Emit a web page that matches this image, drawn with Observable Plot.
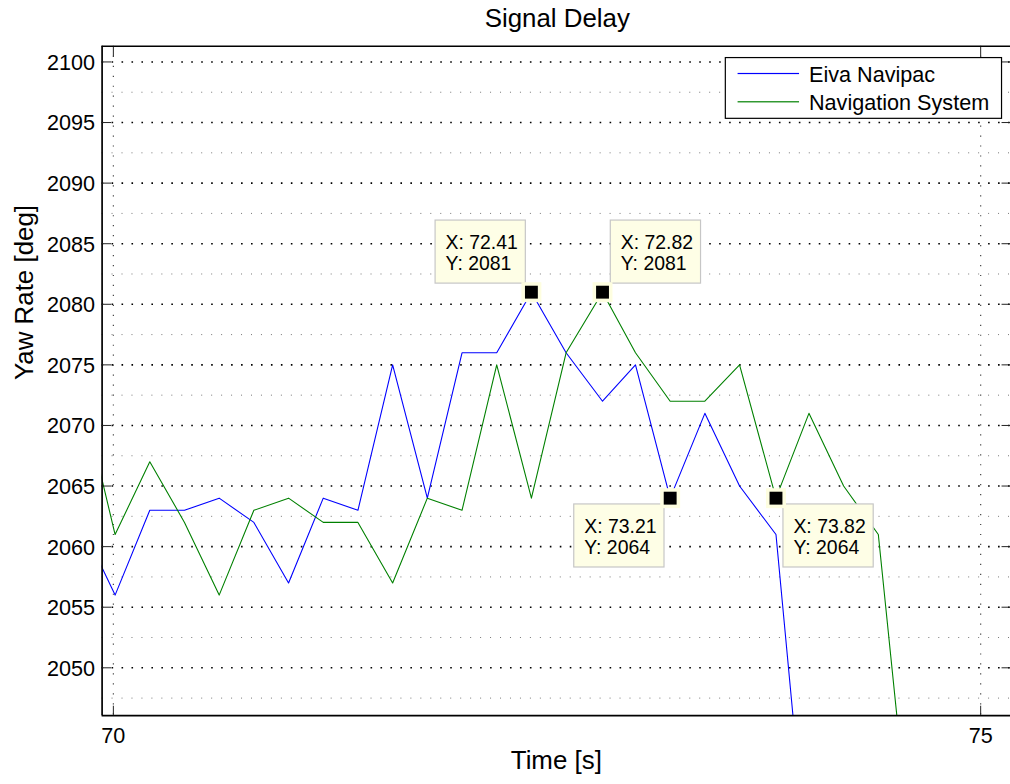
<!DOCTYPE html>
<html>
<head>
<meta charset="utf-8">
<script src="https://cdn.jsdelivr.net/npm/d3@7"></script>
<script src="https://cdn.jsdelivr.net/npm/@observablehq/plot@0.6"></script>
<style>
  html, body { margin: 0; padding: 0; background: #fff; overflow: hidden; }
  #chart { width: 1010px; height: 784px; overflow: hidden; }
  #chart svg { display: block; }
</style>
</head>
<body>
<div id="chart"></div>
<script>
// Sample times [s], shared by both recordings
const time = [69.81, 70.01, 70.21, 70.41, 70.61, 70.81, 71.01, 71.21, 71.41, 71.61,
              71.81, 72.01, 72.21, 72.41, 72.61, 72.82, 73.01, 73.21, 73.41, 73.61,
              73.82, 74.01, 74.21, 74.41, 74.61];

// Yaw rate [deg] from each source
const eivaNavipac = [2062, 2056, 2063, 2063, 2064, 2062, 2057, 2064, 2063, 2075,
                     2064, 2076, 2076, 2081, 2076, 2072, 2075, 2064, 2071, 2065,
                     2061, 2032];
const navigationSystem = [2073, 2061, 2067, 2062, 2056, 2063, 2064, 2062, 2062, 2057,
                          2064, 2063, 2075, 2064, 2076, 2081, 2076, 2072, 2072, 2075,
                          2064, 2071, 2065, 2061, 2033];

const seriesNames = ["Eiva Navipac", "Navigation System"];
const seriesColors = ["#0000ff", "#008000"];

// Axis ticks
const xTicks = [70, 75];
const yTicks = [2050, 2055, 2060, 2065, 2070, 2075, 2080, 2085, 2090, 2095, 2100];
const yMinorTicks = [2047.5, 2052.5, 2057.5, 2062.5, 2067.5, 2072.5, 2077.5, 2082.5, 2087.5, 2092.5, 2097.5];

// Data tips: which series, which sample
const tipSeries = [0, 1, 0, 1];
const tipIndex = [13, 15, 17, 20];

const xDomain = [69.935, 75.172];
const yDomain = [2046.05, 2101.29];

const series = [eivaNavipac, navigationSystem];
const tips = tipSeries.map((s, j) => ({t: time[tipIndex[j]], v: series[s][tipIndex[j]]}));

// Tip box placement relative to its marker (pixels)
const BOX_W = 90.6, BOX_H = 63.3;
const tipPlacement = [
  {left: -96.2, top: -71.9},
  {left: 8.3, top: -71.9},
  {left: -96.3, top: 6.3},
  {left: 7.5, top: 6.3}
];

const font = "'Liberation Sans', Arial, Helvetica, sans-serif";
const tickFont = 21.7;
const labelFont = 26;
const plain = d => String(d);

const chart = Plot.plot({
  width: 1014,
  height: 784,
  marginLeft: 102,
  marginRight: 0,
  marginTop: 46,
  marginBottom: 66,
  style: {fontFamily: font, fontSize: `${tickFont}px`, color: "#000", background: "#fff", overflow: "visible"},
  x: {type: "linear", domain: xDomain, axis: null},
  y: {type: "linear", domain: yDomain, axis: null},
  marks: [
    // grid
    Plot.gridY(yMinorTicks, {stroke: "#777", strokeOpacity: 1, strokeWidth: 1, strokeDasharray: "1,9"}),
    Plot.gridY(yTicks, {stroke: "#000", strokeOpacity: 1, strokeWidth: 1.6, strokeDasharray: "1.6,8.4"}),
    Plot.gridX(xTicks, {stroke: "#444", strokeOpacity: 1, strokeWidth: 1.2, strokeDasharray: "1.2,8.8"}),

    // series
    Plot.line(eivaNavipac, {x: (d, i) => time[i], y: d => d, stroke: seriesColors[0], strokeWidth: 1.1, clip: true}),
    Plot.line(navigationSystem, {x: (d, i) => time[i], y: d => d, stroke: seriesColors[1], strokeWidth: 1.1, clip: true}),

    // axes frame (left, bottom, top)
    Plot.ruleX([xDomain[0]], {stroke: "#000", strokeWidth: 1.7}),
    Plot.ruleY([yDomain[0]], {stroke: "#000", strokeWidth: 1.7}),
    Plot.ruleY([yDomain[1]], {stroke: "#000", strokeWidth: 1.4}),

    // ticks pointing inward
    Plot.axisY(yTicks, {anchor: "left", tickSize: -9.5, tickFormat: () => "", label: null, stroke: "#222"}),
    Plot.axisY(yTicks, {anchor: "right", tickSize: -9.5, tickFormat: () => "", label: null, stroke: "#222"}),
    Plot.axisX(xTicks, {anchor: "bottom", tickSize: -9.5, tickFormat: () => "", label: null, stroke: "#222"}),
    Plot.axisX(xTicks, {anchor: "top", tickSize: -9.5, tickFormat: () => "", label: null, stroke: "#222"}),

    // tick labels
    Plot.axisY(yTicks, {anchor: "left", tickSize: 0, tickPadding: 7, tickFormat: plain, fontSize: tickFont, label: null, dy: 1}),
    Plot.axisX(xTicks, {anchor: "bottom", tickSize: 0, tickPadding: 12, tickFormat: plain, fontSize: tickFont, label: null}),

    // data tips
    ...tips.map((d, j) => {
      const {left, top} = tipPlacement[j];
      return Plot.rect([d], {
        x1: "t", x2: "t", y1: "v", y2: "v",
        insetLeft: left, insetRight: -left - BOX_W,
        insetTop: top, insetBottom: -top - BOX_H,
        fill: "#fefee6", stroke: "#c6c6c6", strokeWidth: 1.2
      });
    }),
    Plot.dot(tips, {x: "t", y: "v", symbol: "square", r: 11.3, fill: "#fefee0", stroke: "none"}),
    Plot.dot(tips, {x: "t", y: "v", symbol: "square", r: 7.3, fill: "#000", stroke: "none"}),
    ...tips.map((d, j) => {
      const {left, top} = tipPlacement[j];
      return Plot.text([d], {
        x: "t", y: "v",
        text: d => `X: ${d.t.toFixed(2)}\nY: ${d.v}`,
        textAnchor: "start", lineAnchor: "bottom", lineHeight: 1.1,
        dx: left + 10, dy: top + 49.7,
        fontSize: 19.5, fill: "#000"
      });
    }),

    // legend
    Plot.frame({insetLeft: 625.7, insetRight: 9, insetTop: 11.3, insetBottom: 599.7, fill: "#fff", stroke: "#000", strokeWidth: 1.2}),
    ...seriesColors.map((c, i) => Plot.frame({
      insetLeft: 638, insetRight: 212.3,
      insetTop: 26.7 + i * 28.4, insetBottom: 644.1 - i * 28.4,
      fill: c, stroke: "none"
    })),
    ...seriesNames.map((name, i) => Plot.text([name], {
      text: d => d, frameAnchor: "top-left", textAnchor: "start", lineAnchor: "bottom",
      dx: 709.7, dy: 35.7 + i * 28.3, fontSize: tickFont, fill: "#000"
    })),

    // titles
    Plot.text(["Signal Delay"], {text: d => d, frameAnchor: "top", lineAnchor: "bottom", dx: 1, dy: -19.3, fontSize: labelFont, fill: "#000"}),
    Plot.text(["Time [s]"], {text: d => d, frameAnchor: "bottom", lineAnchor: "bottom", dy: 53.7, fontSize: labelFont, fill: "#000"}),
    Plot.text(["Yaw Rate [deg]"], {text: d => d, frameAnchor: "left", rotate: -90, lineAnchor: "bottom", dx: -69, dy: -1, fontSize: labelFont, fill: "#000"})
  ]
});

document.getElementById("chart").appendChild(chart);
</script>
</body>
</html>
